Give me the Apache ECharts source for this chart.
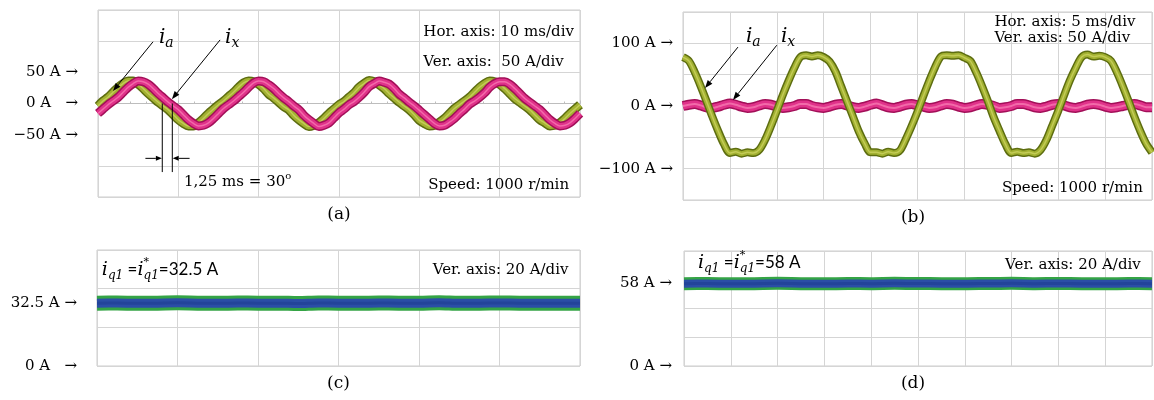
<!DOCTYPE html>
<html><head><meta charset="utf-8">
<script src="https://cdn.jsdelivr.net/npm/echarts@6/dist/echarts.min.js"></script>
<style>html,body{margin:0;padding:0;background:#fff}#c{width:1154px;height:400px}</style>
</head><body><div id="c"></div>
<script>
// ---------------- DATA ----------------
// sampling steps (ms) of the value arrays below
const STEP_A = 0.625, STEP_B = 0.625, STEP_C = 2.5, STEP_D = 2.5;

// (a) phase current i_a and i_x, A, 0..60 ms
const ia_a = [
 -4,4,10,18,26,32,36,36,31,24,16,9,2,-4,-10,-18,-26,-32,-36,-36,-31,-24,-16,-9,
 -2,4,11,18,26,33,36,35,31,24,15,9,2,-5,-10,-19,-26,-32,-37,-35,-31,-24,-16,-9,
 -2,3,10,17,26,32,37,35,30,24,16,9,2,-4,-10,-18,-27,-32,-36,-35,-30,-24,-16,-8,
 -2,4,10,18,26,32,36,35,31,24,16,8,2,-4,-10,-18,-26,-31,-36,-35,-31,-24,-16,-9,
 -2];
const ix_a = [
 -16,-9,-2,4,10,18,26,32,36,35,31,24,16,9,2,-4,-10,-18,-26,-32,-36,-35,-31,-24,
 -16,-8,-2,4,11,18,26,33,36,35,30,24,16,9,3,-4,-10,-19,-26,-32,-37,-35,-31,-23,
 -15,-9,-2,3,10,18,27,32,36,34,31,24,15,9,2,-4,-11,-18,-25,-32,-36,-35,-30,-24,
 -16,-9,-1,4,10,17,26,32,35,35,31,24,16,8,2,-4,-10,-18,-26,-32,-36,-35,-31,-24,
 -16];
// (b) i_a and i_x, A, 0..50 ms
const ia_b = [
 78,72,54,32,8,-17,-40,-61,-75,-73,-76,-74,-75,-70,-54,-32,-8,17,40,61,78,81,79,81,
 78,71,55,31,7,-17,-41,-60,-74,-74,-76,-73,-75,-71,-53,-32,-9,16,40,62,79,81,80,81,
 77,72,54,32,8,-18,-40,-61,-75,-73,-75,-74,-76,-70,-54,-31,-8,17,41,61,78,82,79,80,
 78,72,54,32,8,-17,-40,-60,-74];
const ix_b = [
 0,2,3,1,-2,-3,-1,2,4, 2,-1,-3,-2,1,3,2,-1,-3, -2,0,3,3,0,-2,-3,-1,2,
 3,1,-2,-3,-1,2,4,1,-2, -3,-1,2,3,1,-1,-3,-2,1, 3,2,-1,-3,-2,1,3,2,0,
 -3,-2,0,3,3,1,-2,-3,-1, 2,3,1,-2,-3,-1,2,3,2, -1,-3,-2,0,2,3,1,-2,-2];
// (c) i_q1, A, 0..60 ms ; (d) i_q1, A, 0..50 ms
const iq_c = [32.5,32.6,32.4,32.5,32.7,32.5,32.4,32.6,32.5,32.5,32.3,32.6,32.5,32.4,32.6,32.5,32.5,32.7,32.4,32.5,32.6,32.5,32.4,32.5,32.5];
const iq_d = [57.3,57.4,57.2,57.3,57.5,57.3,57.2,57.4,57.3,57.5,57.4,57.3,57.2,57.4,57.5,57.3,57.4,57.3,57.2,57.4,57.3];

// tick labels
const yLab_a = {'50':'50 A →', '0':'0 A   →', '-50':'−50 A →'};
const yLab_b = {'100':'100 A →', '0':'0 A →', '-100':'−100 A →'};
const yLab_c = {'32.5':'32.5 A →', '0':'0 A   →'};
const yLab_d = {'58':'58 A →', '0':'0 A →'};
const yVals_a = [-50,0,50], yVals_b = [-100,0,100], yVals_c = [0,32.5], yVals_d = [0,58];

// ---------------- CHART ----------------
const SERIF = '"DejaVu Serif"';
const pairs = (arr, step) => arr.map((v, i) => [i * step, v]);

const GRIDS = [
  {left:98, top:10, width:482, height:187},
  {left:683, top:12, width:469, height:188},
  {left:97, top:250, width:483, height:116},
  {left:684, top:251, width:468, height:115}
];
const XR = [[0,60,10],[0,50,5],[0,60,10],[0,50,5]];
const YR = [[-150,150,50],[-150,150,50],[0,60,20],[0,80,20]];
const YL = [[yVals_a,yLab_a,20],[yVals_b,yLab_b,10],[yVals_c,yLab_c,20],[yVals_d,yLab_d,12]];

const gridCol = '#d5d5d5';
const xAxis = XR.map((r, i) => ({
  type:'value', gridIndex:i, min:r[0], max:r[1], interval:r[2],
  axisLabel:{show:false},
  axisLine:{show: i < 2, onZero:true, lineStyle:{color:'#bdbdbd'}},
  axisTick:{show: i < 2, inside:true, length:3, lineStyle:{color:'#bdbdbd'}},
  minorTick:{show: i < 2, splitNumber:5, length:2, lineStyle:{color:'#bdbdbd'}},
  splitLine:{show:true, lineStyle:{color:gridCol, width:1}}
}));
const yAxis = YR.map((r, i) => ({
  type:'value', gridIndex:i, min:r[0], max:r[1], interval:r[2],
  axisLine:{show:false}, axisTick:{show:false},
  splitLine:{show:true, lineStyle:{color:gridCol, width:1}},
  axisLabel:{
    show:true, customValues: YL[i][0], margin: YL[i][2],
    color:'#000', fontFamily:'DejaVu Serif', fontSize:15,
    formatter: v => YL[i][1][String(v)] || ''
  }
}));

function band(gi, data, cols, widths, z) {
  return cols.map((c, k) => ({
    type:'line', xAxisIndex:gi, yAxisIndex:gi, data, showSymbol:false, symbol:'none',
    smooth:0.3, silent:true, animation:false, z: z + k,
    lineStyle:{color:c, width:widths[k], join:'round', cap:'butt'}
  }));
}
const GREEN = ['#5d6d10','#a2b131','#c3cb57'];
const PINK  = ['#a20f58','#e0328a','#f26aa9'];
const series = [
  ...band(0, pairs(ia_a, STEP_A), GREEN, [9,6,1.5], 2),
  ...band(0, pairs(ix_a, STEP_A), PINK, [9,6,1.5], 6),
  ...band(1, pairs(ix_b, STEP_B), PINK, [10,7,2], 2),
  ...band(1, pairs(ia_b, STEP_B), GREEN, [8,5,1.5], 6),
  ...band(2, pairs(iq_c, STEP_C), ['#34a445','#2b4ea6','#23449a'], [15,9,3], 2),
  ...band(3, pairs(iq_d, STEP_D), ['#34a445','#2b4ea6','#23449a'], [13,8,3], 2)
];

const option = {
  animation:false,
  backgroundColor:'#fff',
  grid: GRIDS.map(g => Object.assign({show:true, borderColor:'#cccccc', borderWidth:1, backgroundColor:'#fff'}, g)),
  xAxis, yAxis, series
};
const chart = echarts.init(document.getElementById('c'));
chart.setOption(option);

// ---------------- ANNOTATIONS (data coordinates) ----------------
const P = (g, t, v) => chart.convertToPixel({gridIndex:g}, [t, v]);
const cv = document.createElement('canvas').getContext('2d');
const measure = (txt, font) => { cv.font = font; return cv.measureText(txt).width; };
const G = [];
function arrow(p1, p2, head, hw) {
  head = head || 8; hw = hw || 3;
  const dx = p2[0]-p1[0], dy = p2[1]-p1[1], L = Math.hypot(dx, dy), ux = dx/L, uy = dy/L;
  const bx = p2[0]-ux*head, by = p2[1]-uy*head;
  G.push({type:'line', silent:true, z:100, shape:{x1:p1[0],y1:p1[1],x2:bx,y2:by}, style:{stroke:'#000', lineWidth:1}});
  G.push({type:'polygon', silent:true, z:100, shape:{points:[[p2[0],p2[1]],[bx-uy*hw,by+ux*hw],[bx+uy*hw,by-ux*hw]]}, style:{fill:'#000'}});
}
function seg(p1, p2) {
  G.push({type:'line', silent:true, z:100, shape:{x1:p1[0],y1:p1[1],x2:p2[0],y2:p2[1]}, style:{stroke:'#000', lineWidth:1}});
}
function pieces(x0, yc, list, center) {
  let w = 0;
  list.forEach(p => { if (!p.stack) w += measure(p.t, p.f); });
  let x = center ? x0 - w/2 : x0;
  list.forEach(p => {
    G.push({type:'text', silent:true, z:101, x: x, y: yc + (p.dy||0),
      style:{text:p.t, font:p.f, fill:'#000', align:'left', verticalAlign:'middle'}});
    if (!p.stack) x += measure(p.t, p.f);
  });
}
function txt(g, t, v, s, font) {
  const p = P(g, t, v);
  pieces(p[0], p[1], [{t:s, f:font || ('15px ' + SERIF)}], false);
}
const IT = s => 'italic ' + s + 'px ' + SERIF;
function iLabel(g, t, v, sub) {
  const p = P(g, t, v);
  pieces(p[0], p[1], [{t:'i', f:IT(20)}, {t:sub, f:IT(14), dy:5}], true);
}
// (a)
arrow(P(0, 6.85, 99), P(0, 1.87, 20));
arrow(P(0, 15.2, 102), P(0, 9.2, 7));
iLabel(0, 8.5, 105, 'a');
iLabel(0, 16.7, 105, 'x');
seg(P(0, 8.0, 0), P(0, 8.0, -110));
seg(P(0, 9.25, 0), P(0, 9.25, -110));
arrow(P(0, 5.9, -88), P(0, 7.95, -88), 6, 2.5);
arrow(P(0, 11.4, -88), P(0, 9.3, -88), 6, 2.5);
(function(){
  const p = P(0, 10.7, -126);
  pieces(p[0], p[1], [{t:'1,25 ms = 30', f:'15px ' + SERIF}, {t:'o', f:'10px ' + SERIF, dy:-6}], false);
})();
txt(0, 40.5, 114.7, 'Hor. axis: 10 ms/div');
txt(0, 40.5, 66.6, 'Ver. axis:  50 A/div');
txt(0, 41.1, -131, 'Speed: 1000 r/min');
// (b)
arrow(P(1, 5.86, 94), P(1, 2.35, 28.7));
arrow(P(1, 10.0, 97), P(1, 5.33, 9.6));
iLabel(1, 7.5, 110, 'a');
iLabel(1, 11.2, 110, 'x');
txt(1, 33.2, 134.5, 'Hor. axis: 5 ms/div');
txt(1, 33.2, 108.5, 'Ver. axis: 50 A/div');
txt(1, 34.0, -131, 'Speed: 1000 r/min');
// (c), (d)
function iqLabel(g, t, v, val) {
  const p = P(g, t, v);
  pieces(p[0], p[1], [
    {t:'i', f:IT(19)}, {t:'q1', f:IT(12), dy:6},
    {t:' =', f:'17px Lato'},
    {t:'i', f:IT(19)}, {t:'*', f:'11px ' + SERIF, dy:-8, stack:true}, {t:'q1', f:IT(12), dy:6},
    {t:'=' + val + ' A', f:'17px Lato'}
  ], false);
}
iqLabel(2, 0.6, 49.7, '32.5');
txt(2, 41.7, 49.7, 'Ver. axis: 20 A/div');
iqLabel(3, 1.5, 71.7, '58');
txt(3, 34.3, 70.3, 'Ver. axis: 20 A/div');
// captions
[['(a)', 0], ['(b)', 1], ['(c)', 2], ['(d)', 3]].forEach(([s, g]) => {
  const r = GRIDS[g];
  const cx = g % 2 === 0 ? r.left + r.width/2 : 913;
  G.push({type:'text', silent:true, x:cx, y:r.top + r.height + 18,
    style:{text:s, font:'17px ' + SERIF, fill:'#000', align:'center', verticalAlign:'middle'}});
});
chart.setOption({graphic: G});
</script></body></html>
